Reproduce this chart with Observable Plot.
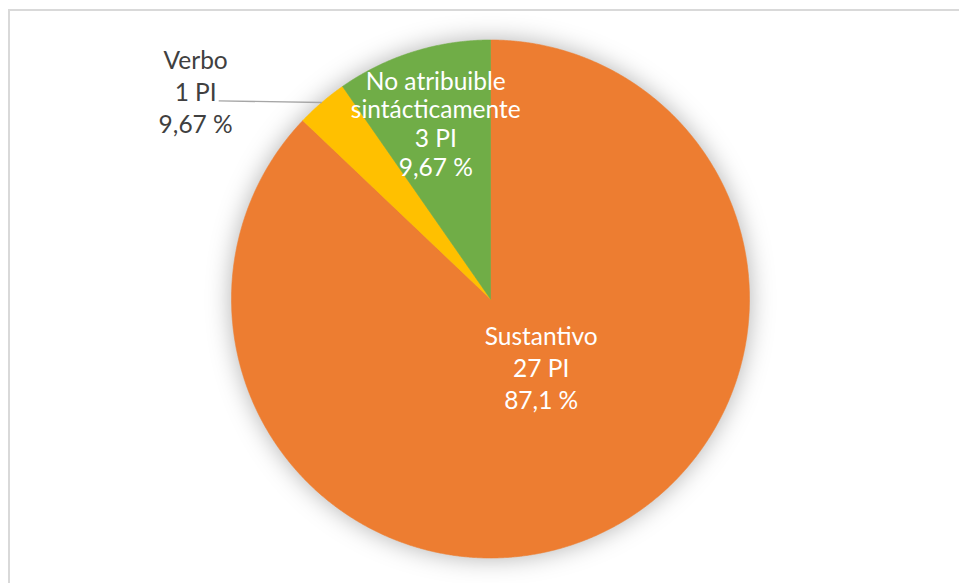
<!DOCTYPE html>
<html>
<head>
<meta charset="utf-8">
<script src="https://cdn.jsdelivr.net/npm/d3@7"></script>
<script src="https://cdn.jsdelivr.net/npm/@observablehq/plot@0.6"></script>
<style>
  html, body { margin: 0; padding: 0; background: #fff; overflow: hidden; }
  #wrap { position: relative; width: 959px; height: 583px; }
  #frame { position: absolute; left: 8px; top: 9px; width: 1200px; height: 1200px;
           border: 2px solid #d9d9d9; box-sizing: border-box; }
  #chart { position: absolute; left: 0; top: 0; }
  .pie-slices { filter: drop-shadow(0 0 12px rgba(0,0,0,0.3)); }
</style>
</head>
<body>
<div id="wrap"><div id="frame"></div><div id="chart"></div></div>
<script>
// ---- data ----
const categories = ["Sustantivo", "Verbo", "No atribuible sintácticamente"];
const counts = [27, 1, 3];
const nameLabels = ["Sustantivo", "Verbo", "No atribuible\nsintácticamente"];
const countLabels = ["27 PI", "1 PI", "3 PI"];
const percentLabels = ["87,1 %", "9,67 %", "9,67 %"];
const colors = ["#ED7D31", "#FFC000", "#70AD47"];

const rows = categories.map((c, i) => ({
  category: c, count: counts[i],
  label: nameLabels[i] + "\n" + countLabels[i] + "\n" + percentLabels[i]
}));

// pie angles (0 = 12 o'clock, clockwise)
const arcs = d3.pie().sort(null).value(d => d.count)(rows);

// slice outlines in unit-circle coordinates
const slicePts = [];
arcs.forEach(a => {
  const cat = a.data.category;
  slicePts.push({category: cat, x: 0, y: 0});
  const n = Math.max(2, Math.ceil((a.endAngle - a.startAngle) / (Math.PI / 720)));
  for (let k = 0; k <= n; k++) {
    const t = a.startAngle + (a.endAngle - a.startAngle) * k / n;
    slicePts.push({category: cat, x: Math.sin(t), y: Math.cos(t)});
  }
  slicePts.push({category: cat, x: 0, y: 0});
});

// label placement (relative to slice mid-angle)
const mid = a => (a.startAngle + a.endAngle) / 2;
const at = (a, r) => ({x: Math.sin(mid(a)) * r, y: Math.cos(mid(a)) * r});
const sust = arcs.find(a => a.data.category === "Sustantivo");
const green = arcs.find(a => a.data.category === "No atribuible sintácticamente");
const verbo = arcs.find(a => a.data.category === "Verbo");

const sustLabel = [{...at(sust, 0.33), label: sust.data.label}];
const greenLabel = [{...at(green, 0.706), label: green.data.label}];
const vx = Math.sin(mid(verbo)), vy = Math.cos(mid(verbo));
const leader = [{x1: vx, y1: vy, x2: vx - 0.398, y2: vy + 0.006}];
const verboLabel = [{x: vx - 0.487, y: vy + 0.037, label: verbo.data.label}];

const font = "Lato, 'Open Sans', sans-serif";

const plot = Plot.plot({
  width: 959,
  height: 583,
  margin: 0,
  x: {domain: [-1, 1], range: [231, 749], axis: null},
  y: {domain: [-1, 1], range: [557.5, 39.5], axis: null},
  color: {domain: categories, range: colors},
  style: {fontFamily: font, background: "transparent", overflow: "visible"},
  marks: [
    Plot.line(slicePts, {x: "x", y: "y", z: "category", fill: "category", stroke: "category",
                         strokeWidth: 0.6, curve: "linear", className: "pie-slices"}),
    Plot.link(leader, {x1: "x1", y1: "y1", x2: "x2", y2: "y2", stroke: "#a6a6a6", strokeWidth: 1.3}),
    Plot.text(sustLabel, {x: "x", y: "y", text: "label", dx: 17, dy: -11,
      fill: "white", fontSize: 24.5, lineHeight: 1.3, textAnchor: "middle"}),
    Plot.text(greenLabel, {x: "x", y: "y", text: "label", dy: -1,
      fill: "white", fontSize: 24.5, lineHeight: 1.17, textAnchor: "middle"}),
    Plot.text(verboLabel, {x: "x", y: "y", text: "label", dy: -2,
      fill: "#404040", fontSize: 24.5, lineHeight: 1.3, textAnchor: "middle"})
  ]
});
document.getElementById("chart").appendChild(plot);
</script>
</body>
</html>
